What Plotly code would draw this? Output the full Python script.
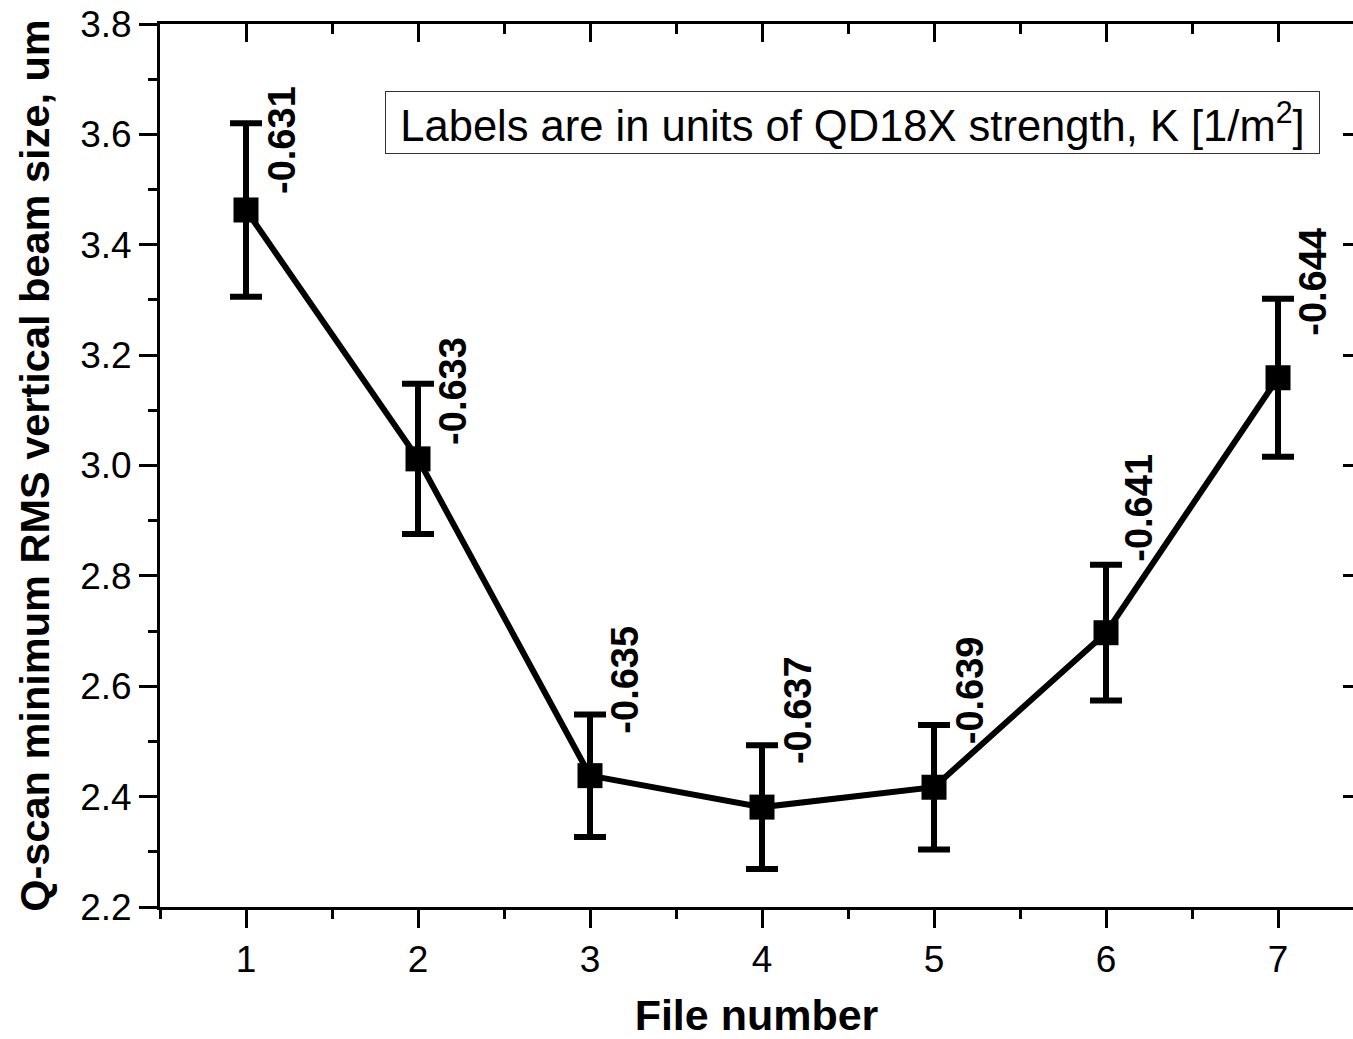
import plotly.graph_objects as go

file_number = [1, 2, 3, 4, 5, 6, 7]
beam_size = [3.463, 3.012, 2.438, 2.381, 2.417, 2.697, 3.159]
beam_err = [0.157, 0.136, 0.111, 0.112, 0.113, 0.123, 0.143]
k_labels = ["-0.631", "-0.633", "-0.635", "-0.637", "-0.639", "-0.641", "-0.644"]

# label placement offsets in pixels (relative to each point)
label_dx = [36, 35, 35, 36, 36, 33, 35]
label_dy = [70, 68, 96, 97, 97, 125, 96]

FONT = "Liberation Sans, Arial, Helvetica, sans-serif"

fig = go.Figure()
fig.add_trace(go.Scatter(
    x=file_number, y=beam_size,
    mode="lines+markers",
    line=dict(color="black", width=6),
    marker=dict(symbol="square", size=25, color="black"),
    error_y=dict(type="data", array=beam_err, visible=True,
                 color="black", thickness=6, width=16),
    showlegend=False, hoverinfo="x+y",
))
# invisible trace so the mirrored (top/right) axes are drawn
fig.add_trace(go.Scatter(
    x=file_number, y=beam_size, xaxis="x2", yaxis="y2",
    mode="markers", marker=dict(opacity=0), showlegend=False,
    hoverinfo="skip",
))

for xv, yv, lab, dx, dy in zip(file_number, beam_size, k_labels, label_dx, label_dy):
    fig.add_annotation(
        x=xv, y=yv, xref="x", yref="y",
        text="<b>" + lab + "</b>", textangle=-90,
        showarrow=False, xanchor="center", yanchor="middle",
        xshift=dx, yshift=dy,
        font=dict(family=FONT, size=38, color="black"),
    )

fig.add_annotation(
    x=0.5805, y=0.889, xref="paper", yref="paper",
    text="Labels are in units of QD18X strength, K [1/m<sup>2</sup>]",
    showarrow=False, xanchor="center", yanchor="middle",
    width=929, height=57, align="center",
    font=dict(family=FONT, size=43.5, color="black"),
    bordercolor="#333333", borderwidth=1, borderpad=2,
    bgcolor="white",
)

x_range = [0.5, 7.436]
y_range = [2.2, 3.8]

fig.update_layout(
    width=1353, height=1039,
    margin=dict(l=160, r=0, t=24, b=132),
    paper_bgcolor="white", plot_bgcolor="white",
    font=dict(family=FONT, color="black"),
    xaxis=dict(
        range=x_range, dtick=1, tick0=1,
        showgrid=False, zeroline=False,
        showline=True, linecolor="black", linewidth=3,
        ticks="outside", ticklen=18, tickwidth=3, tickcolor="black",
        minor=dict(ticks="outside", ticklen=9, tickwidth=3, dtick=0.5, tick0=0.5, tickcolor="black"),
        tickfont=dict(family=FONT, size=37, color="black"),
        title=dict(text="<b>File number</b>", font=dict(family=FONT, size=43, color="black"), standoff=28),
    ),
    yaxis=dict(
        range=y_range, dtick=0.2, tick0=2.2, tickformat=".1f",
        showgrid=False, zeroline=False,
        showline=True, linecolor="black", linewidth=3,
        ticks="outside", ticklen=18, tickwidth=3, tickcolor="black",
        minor=dict(ticks="outside", ticklen=9, tickwidth=3, dtick=0.1, tickcolor="black"),
        tickfont=dict(family=FONT, size=37, color="black"),
        title=dict(text="<b>Q-scan minimum RMS vertical beam size, um</b>",
                   font=dict(family=FONT, size=41.5, color="black"), standoff=18),
    ),
    xaxis2=dict(
        overlaying="x", side="top", range=x_range, dtick=1, tick0=1,
        showgrid=False, zeroline=False, showticklabels=False,
        showline=True, linecolor="black", linewidth=3,
        ticks="inside", ticklen=18, tickwidth=3, tickcolor="black",
        minor=dict(ticks="inside", ticklen=10, tickwidth=3, dtick=0.5, tick0=0.5, tickcolor="black"),
    ),
    yaxis2=dict(
        overlaying="y", side="right", range=y_range, dtick=0.2, tick0=2.2,
        showgrid=False, zeroline=False, showticklabels=False,
        showline=False,
        ticks="inside", ticklen=10, tickwidth=3, tickcolor="black",
    ),
)

fig.write_html("out.html")
